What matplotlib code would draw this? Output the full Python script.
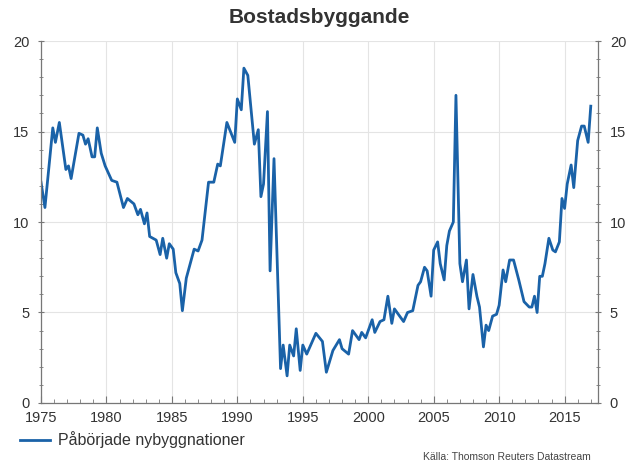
import matplotlib.pyplot as plt
from matplotlib.ticker import MultipleLocator

plt.rcParams['font.family'] = ['Liberation Sans', 'DejaVu Sans']

# Påbörjade nybyggnationer
years = [1975.0, 1975.3, 1975.9, 1976.1, 1976.4, 1976.9, 1977.1, 1977.3, 1977.9, 1978.2,
         1978.4, 1978.6, 1978.9, 1979.1, 1979.3, 1979.6, 1979.9, 1980.4, 1980.8, 1981.3,
         1981.6, 1982.1, 1982.4, 1982.6, 1982.9, 1983.1, 1983.3, 1983.8, 1984.1, 1984.3,
         1984.6, 1984.8, 1985.1, 1985.3, 1985.6, 1985.8, 1986.1, 1986.7, 1987.0, 1987.3,
         1987.8, 1988.2, 1988.5, 1988.7, 1989.2, 1989.8, 1990.0, 1990.3, 1990.5, 1990.8,
         1991.3, 1991.6, 1991.8, 1992.0, 1992.3, 1992.5, 1992.8, 1993.3, 1993.5, 1993.8,
         1994.0, 1994.3, 1994.5, 1994.8, 1995.0, 1995.3, 1996.0, 1996.5, 1996.8, 1997.3,
         1997.8, 1998.0, 1998.5, 1998.8, 1999.3, 1999.5, 1999.8, 2000.3, 2000.5, 2000.9,
         2001.2, 2001.5, 2001.8, 2002.0, 2002.4, 2002.7, 2003.0, 2003.4, 2003.8, 2004.0,
         2004.3, 2004.5, 2004.8, 2005.0, 2005.3, 2005.5, 2005.8, 2006.0, 2006.2, 2006.5,
         2006.7, 2007.0, 2007.2, 2007.5, 2007.7, 2008.0, 2008.3, 2008.5, 2008.8, 2009.0,
         2009.2, 2009.5, 2009.8, 2010.0, 2010.3, 2010.5, 2010.8, 2011.1, 2011.5, 2011.9,
         2012.3, 2012.5, 2012.7, 2012.9, 2013.1, 2013.3, 2013.5, 2013.8, 2014.1, 2014.3,
         2014.6, 2014.8, 2015.0, 2015.2, 2015.5, 2015.7, 2016.0, 2016.3, 2016.5, 2016.8,
         2017.0]
values = [12.2, 10.8, 15.2, 14.4, 15.5, 12.9, 13.1, 12.4, 14.9, 14.8,
          14.3, 14.6, 13.6, 13.6, 15.2, 13.8, 13.1, 12.3, 12.2, 10.8,
          11.3, 11.0, 10.4, 10.7, 9.9, 10.5, 9.2, 9.0, 8.2, 9.1,
          8.0, 8.8, 8.5, 7.2, 6.6, 5.1, 6.9, 8.5, 8.4, 9.0,
          12.2, 12.2, 13.2, 13.1, 15.5, 14.4, 16.8, 16.2, 18.5, 18.1,
          14.3, 15.1, 11.4, 12.1, 16.1, 7.3, 13.5, 1.9, 3.2, 1.5,
          3.2, 2.6, 4.1, 1.8, 3.2, 2.7, 3.85, 3.4, 1.7, 2.9,
          3.5, 3.0, 2.7, 4.0, 3.5, 3.9, 3.6, 4.6, 3.9, 4.5,
          4.6, 5.9, 4.4, 5.2, 4.8, 4.5, 5.0, 5.1, 6.5, 6.7,
          7.5, 7.3, 5.9, 8.45, 8.9, 7.7, 6.8, 8.7, 9.5, 10.0,
          17.0, 7.7, 6.7, 7.9, 5.2, 7.1, 5.9, 5.3, 3.1, 4.3,
          4.0, 4.8, 4.9, 5.4, 7.35, 6.7, 7.9, 7.9, 6.8, 5.6,
          5.3, 5.3, 5.9, 5.0, 7.0, 7.0, 7.7, 9.1, 8.45, 8.35,
          8.9, 11.3, 10.75, 12.1, 13.15, 11.9, 14.5, 15.3, 15.3, 14.4,
          16.4]

fig = plt.figure(figsize=(6.27, 4.66), dpi=100)
ax = fig.add_axes([0.0654, 0.1352, 0.8883, 0.7768])

line, = ax.plot(years, values, color='#1a62a8', linewidth=2.0,
                label='Påbörjade nybyggnationer')

ax.set_xlim(1975, 2017.55)
ax.set_ylim(0, 20)
ax.xaxis.set_major_locator(MultipleLocator(5))
ax.xaxis.set_minor_locator(MultipleLocator(1))
ax.yaxis.set_major_locator(MultipleLocator(5))
ax.yaxis.set_minor_locator(MultipleLocator(1))
ax.grid(True, which='major', color='#e4e4e4', linewidth=0.8)
ax.set_axisbelow(True)

ax.spines['top'].set_visible(False)
for s in ['left', 'right', 'bottom']:
    ax.spines[s].set_color('#777777')
    ax.spines[s].set_linewidth(0.9)

ax.tick_params(which='both', direction='inout', colors='#777777',
               labelcolor='#333333', labelsize=10.5, left=True, right=True,
               labelleft=True, labelright=True)
ax.tick_params(which='major', length=5)
ax.tick_params(which='minor', length=3)
ax.tick_params(axis='y', which='both', pad=6)
ax.tick_params(axis='x', which='both', direction='in', pad=6)

fig.text(0.51, 0.962, 'Bostadsbyggande', ha='center', va='center',
         fontsize=15, fontweight='bold', color='#333333')

# legend row under the axis
fig.legend(handles=[line], loc='center left', bbox_to_anchor=(0.032, 0.056),
           frameon=False, fontsize=11.5, handlelength=1.9, handletextpad=0.45,
           borderpad=0, borderaxespad=0, labelcolor='#333333')

fig.text(0.942, 0.008, 'Källa: Thomson Reuters Datastream', ha='right',
         va='bottom', fontsize=7.5, color='#444444')

plt.savefig('out.png')
